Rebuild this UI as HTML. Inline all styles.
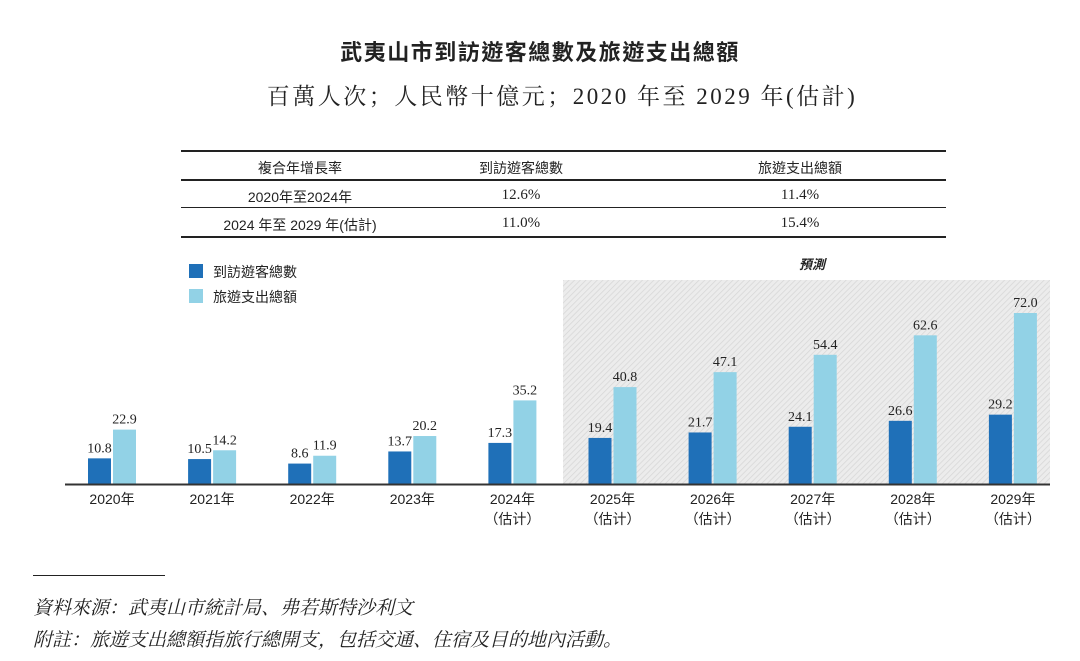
<!DOCTYPE html>
<html><head><meta charset="utf-8"><style>
body{margin:0;background:#fff;width:1080px;height:661px;overflow:hidden;position:relative;font-family:"Liberation Sans","Noto Sans CJK TC",sans-serif;color:#222}
.a{position:absolute;white-space:nowrap}
.t{font-size:14px;transform:translateX(-50%)}
.s{font-family:"Liberation Serif","Noto Serif CJK SC",serif}
.p{font-size:15px;top:0}
.ln{position:absolute;background:#222}
</style></head><body>
<div class="a" style="left:540px;top:35px;transform:translateX(-50%);font-size:22px;font-weight:bold;letter-spacing:1.5px">武夷山市到訪遊客總數及旅遊支出總額</div>
<div class="a s" style="left:562px;top:78px;transform:translateX(-50%);font-size:23px;letter-spacing:2.5px">百萬人次；人民幣十億元；2020 年至 2029 年(估計)</div>

<div>
<div class="ln" style="left:181px;top:150px;width:765px;height:2px"></div>
<div class="ln" style="left:181px;top:179px;width:765px;height:2px"></div>
<div class="ln" style="left:181px;top:207px;width:765px;height:1px"></div>
<div class="ln" style="left:181px;top:236px;width:765px;height:2px"></div>
<div class="a t" style="left:300px;top:158px">複合年增長率</div>
<div class="a t" style="left:521px;top:158px">到訪遊客總數</div>
<div class="a t" style="left:800px;top:158px">旅遊支出總額</div>
<div class="a t" style="left:300px;top:187px">2020年至2024年</div>
<div class="a t s" style="left:521px;top:187px;font-size:15px">12.6%</div>
<div class="a t s" style="left:800px;top:187px;font-size:15px">11.4%</div>
<div class="a t" style="left:300px;top:215px">2024 年至 2029 年(估計)</div>
<div class="a t s" style="left:521px;top:215px;font-size:15px">11.0%</div>
<div class="a t s" style="left:800px;top:215px;font-size:15px">15.4%</div>
</div>

<div>
<div class="a" style="left:189px;top:264px;width:14px;height:14px;background:#1f70b8"></div>
<div class="a" style="left:213px;top:262px;font-size:14px">到訪遊客總數</div>
<div class="a" style="left:189px;top:289px;width:14px;height:14px;background:#92d2e6"></div>
<div class="a" style="left:213px;top:287px;font-size:14px">旅遊支出總額</div>
</div>
<div class="a" style="left:812px;top:254px;transform:translateX(-50%);font-size:13px;font-style:italic;font-weight:bold">預測</div>

<svg id="chart" width="1080" height="661" style="position:absolute;left:0;top:0">
<defs><pattern id="hatch" width="4" height="4" patternUnits="userSpaceOnUse" patternTransform="rotate(45)"><rect width="4" height="4" fill="#ececec"/><line x1="0" y1="0" x2="0" y2="4" stroke="#d6d6d6" stroke-width="1.5"/></pattern></defs>
<rect x="563" y="280" width="487" height="204" fill="url(#hatch)"/>
<g id="bars"></g>
<line x1="65" y1="484.5" x2="1050" y2="484.5" stroke="#333" stroke-width="2"/>
</svg>

<div class="ln" style="left:33px;top:575px;width:132px;height:1px"></div>
<div class="a s" style="left:33px;top:593px;font-size:19px;font-style:italic">資料來源：武夷山市統計局、弗若斯特沙利文</div>
<div class="a s" style="left:33px;top:625px;font-size:19px;font-style:italic">附註：旅遊支出總額指旅行總開支，包括交通、住宿及目的地內活動。</div>

<script>
const categories=["2020年","2021年","2022年","2023年","2024年","2025年","2026年","2027年","2028年","2029年"];
const estimated=[false,false,false,false,true,true,true,true,true,true];
const visitors=[10.8,10.5,8.6,13.7,17.3,19.4,21.7,24.1,26.6,29.2];
const spending=[22.9,14.2,11.9,20.2,35.2,40.8,47.1,54.4,62.6,72.0];
const NS="http://www.w3.org/2000/svg";
const base=484, scale=2.375, x0=88, step=100.1, bw=23;
const y=v=>base-v*scale;
const g=document.getElementById('bars');
function mk(tag,attrs){const e=document.createElementNS(NS,tag);for(const k in attrs)e.setAttribute(k,attrs[k]);return e;}
categories.forEach((c,i)=>{
  const gx=x0+i*step;
  [[visitors[i],gx,'#1f70b8','visitors'],[spending[i],gx+bw+2,'#92d2e6','spending']].forEach(([v,x,col,n])=>{
    const r=mk('rect',{x:x,y:y(v),width:bw,height:v*scale,fill:col});
    
    
    g.appendChild(r);
    const t=mk('text',{x:x+bw/2,y:y(v)-6,'text-anchor':'middle','font-size':'14','font-family':'"Liberation Serif",serif',fill:'#222'});
    t.textContent=v.toFixed(1);
    
    
    g.appendChild(t);
  });
  const cx=gx+bw+1;
  const l=mk('text',{x:cx,y:504,'text-anchor':'middle','font-size':'14','font-family':'"Liberation Sans","Noto Sans CJK TC",sans-serif',fill:'#222'});
  l.textContent=c;
  
  
  g.appendChild(l);
  if(estimated[i]){
    const e=mk('text',{x:cx,y:524,'text-anchor':'middle','font-size':'14','font-family':'"Liberation Sans","Noto Sans CJK SC",sans-serif',fill:'#222'});
    e.textContent='（估计）';
    
    
    g.appendChild(e);
  }
});
</script>
</body></html>
